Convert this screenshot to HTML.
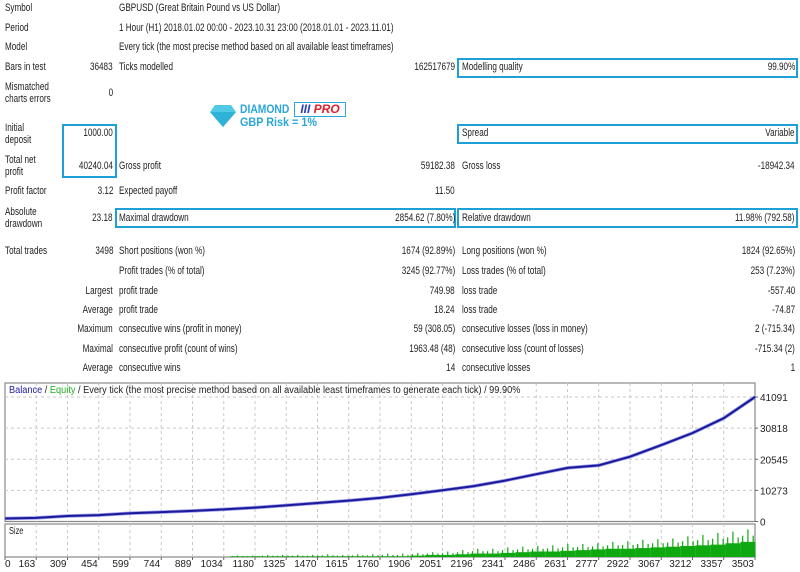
<!DOCTYPE html>
<html><head><meta charset="utf-8"><style>
body{margin:0;width:800px;height:572px;background:#fff;position:relative;overflow:hidden;font-family:"Liberation Sans",sans-serif;font-size:11px;color:#222}
.t{position:absolute;line-height:12px;white-space:nowrap;transform:scaleX(0.74);transform-origin:left center}
.r{text-align:right;transform-origin:right center}
.box{position:absolute;border:2px solid #1e9fd6;box-sizing:border-box}
</style></head><body>
<div class="box" style="left:457px;top:58px;width:341px;height:20px"></div>
<div class="box" style="left:62px;top:124px;width:55px;height:54px"></div>
<div class="box" style="left:457px;top:124px;width:341px;height:20px"></div>
<div class="box" style="left:115px;top:208px;width:341px;height:20px"></div>
<div class="box" style="left:457px;top:208px;width:341px;height:20px"></div>

<div>
<span class="t" style="left:5px;top:2px">Symbol</span>
<span class="t" style="left:119px;top:2px">GBPUSD (Great Britain Pound vs US Dollar)</span>
<span class="t" style="left:5px;top:22px">Period</span>
<span class="t" style="left:119px;top:22px">1 Hour (H1) 2018.01.02 00:00 - 2023.10.31 23:00 (2018.01.01 - 2023.11.01)</span>
<span class="t" style="left:5px;top:41px">Model</span>
<span class="t" style="left:119px;top:41px">Every tick (the most precise method based on all available least timeframes)</span>
<span class="t" style="left:5px;top:61px">Bars in test</span>
<span class="t r" style="right:687px;top:61px">36483</span>
<span class="t" style="left:119px;top:61px">Ticks modelled</span>
<span class="t r" style="right:345px;top:61px">162517679</span>
<span class="t" style="left:462px;top:61px">Modelling quality</span>
<span class="t r" style="right:5px;top:61px">99.90%</span>
<span class="t" style="left:5px;top:81px">Mismatched<br>charts errors</span>
<span class="t r" style="right:687px;top:87px">0</span>
<span class="t" style="left:5px;top:122px">Initial<br>deposit</span>
<span class="t r" style="right:687px;top:127px">1000.00</span>
<span class="t" style="left:462px;top:127px">Spread</span>
<span class="t r" style="right:5px;top:127px">Variable</span>
<span class="t" style="left:5px;top:154px">Total net<br>profit</span>
<span class="t r" style="right:687px;top:160px">40240.04</span>
<span class="t" style="left:119px;top:160px">Gross profit</span>
<span class="t r" style="right:345px;top:160px">59182.38</span>
<span class="t" style="left:462px;top:160px">Gross loss</span>
<span class="t r" style="right:5px;top:160px">-18942.34</span>
<span class="t" style="left:5px;top:185px">Profit factor</span>
<span class="t r" style="right:687px;top:185px">3.12</span>
<span class="t" style="left:119px;top:185px">Expected payoff</span>
<span class="t r" style="right:345px;top:185px">11.50</span>
<span class="t" style="left:5px;top:206px">Absolute<br>drawdown</span>
<span class="t r" style="right:687px;top:212px">23.18</span>
<span class="t" style="left:119px;top:212px">Maximal drawdown</span>
<span class="t r" style="right:345px;top:212px">2854.62 (7.80%)</span>
<span class="t" style="left:462px;top:212px">Relative drawdown</span>
<span class="t r" style="right:5px;top:212px">11.98% (792.58)</span>
<span class="t" style="left:5px;top:245px">Total trades</span>
<span class="t r" style="right:687px;top:245px">3498</span>
<span class="t" style="left:119px;top:245px">Short positions (won %)</span>
<span class="t r" style="right:345px;top:245px">1674 (92.89%)</span>
<span class="t" style="left:462px;top:245px">Long positions (won %)</span>
<span class="t r" style="right:5px;top:245px">1824 (92.65%)</span>
<span class="t" style="left:119px;top:265px">Profit trades (% of total)</span>
<span class="t r" style="right:345px;top:265px">3245 (92.77%)</span>
<span class="t" style="left:462px;top:265px">Loss trades (% of total)</span>
<span class="t r" style="right:5px;top:265px">253 (7.23%)</span>
<span class="t r" style="right:687px;top:285px">Largest</span>
<span class="t" style="left:119px;top:285px">profit trade</span>
<span class="t r" style="right:345px;top:285px">749.98</span>
<span class="t" style="left:462px;top:285px">loss trade</span>
<span class="t r" style="right:5px;top:285px">-557.40</span>
<span class="t r" style="right:687px;top:304px">Average</span>
<span class="t" style="left:119px;top:304px">profit trade</span>
<span class="t r" style="right:345px;top:304px">18.24</span>
<span class="t" style="left:462px;top:304px">loss trade</span>
<span class="t r" style="right:5px;top:304px">-74.87</span>
<span class="t r" style="right:687px;top:323px">Maximum</span>
<span class="t" style="left:119px;top:323px">consecutive wins (profit in money)</span>
<span class="t r" style="right:345px;top:323px">59 (308.05)</span>
<span class="t" style="left:462px;top:323px">consecutive losses (loss in money)</span>
<span class="t r" style="right:5px;top:323px">2 (-715.34)</span>
<span class="t r" style="right:687px;top:343px">Maximal</span>
<span class="t" style="left:119px;top:343px">consecutive profit (count of wins)</span>
<span class="t r" style="right:345px;top:343px">1963.48 (48)</span>
<span class="t" style="left:462px;top:343px">consecutive loss (count of losses)</span>
<span class="t r" style="right:5px;top:343px">-715.34 (2)</span>
<span class="t r" style="right:687px;top:362px">Average</span>
<span class="t" style="left:119px;top:362px">consecutive wins</span>
<span class="t r" style="right:345px;top:362px">14</span>
<span class="t" style="left:462px;top:362px">consecutive losses</span>
<span class="t r" style="right:5px;top:362px">1</span>
</div>

<div style="position:absolute;left:209px;top:102px">
<svg width="28" height="24" style="position:absolute;left:0;top:2px"><polygon points="6,1 22,1 27,8 14,23 1,8" fill="#4fc9e4"/><polygon points="1,8 27,8 14,23" fill="#2eb2d6"/></svg>
<span class="t" style="left:31px;top:1px;font-weight:bold;font-size:12px;color:#2aa6d8;transform:scaleX(0.86)">DIAMOND</span>
<span style="position:absolute;left:85px;top:0;width:52px;height:15px;border:1.5px solid #2aa6d8;box-sizing:border-box;font-weight:bold;font-style:italic;font-size:12px;line-height:12px;text-align:center;background:#fff"><span style="color:#2b3fb8">III</span> <span style="color:#e0202a">PRO</span></span>
<span class="t" style="left:31px;top:14px;font-weight:bold;font-size:12px;color:#2aa6d8;transform:scaleX(0.9)">GBP Risk = 1%</span>
</div>

<svg id="chart" width="800" height="572" style="position:absolute;left:0;top:0"></svg>
<script>
const xTickLabels=[0,163,309,454,599,744,889,1034,1180,1325,1470,1615,1760,1906,2051,2196,2341,2486,2631,2777,2922,3067,3212,3357,3503];
const yTickLabels=[0,10273,20545,30818,41091];
const balanceTrades=[0,146,292,437,583,729,875,1020,1166,1312,1458,1603,1749,1895,2041,2186,2332,2478,2624,2769,2915,3061,3207,3352,3498];
const balanceValues=[1000,1200,1800,2100,2700,3100,3500,4000,4600,5300,6100,6900,7800,9000,10300,11700,13500,15600,17700,18500,21400,25200,29200,34100,41091];
const sizeTrades=[1050,1120,1190,1260,1330,1400,1470,1540,1610,1680,1750,1820,1890,1960,2030,2100,2170,2240,2310,2380,2450,2520,2590,2660,2730,2800,2870,2940,3010,3080,3150,3220,3290,3360,3430];
const sizeBase=[0.01,0.01,0.01,0.01,0.01,0.01,0.01,0.01,0.01,0.01,0.01,0.01,0.02,0.03,0.03,0.04,0.05,0.05,0.06,0.07,0.08,0.08,0.09,0.10,0.11,0.12,0.12,0.13,0.14,0.15,0.16,0.17,0.18,0.20,0.22];
const sizePeak=[0.02,0.02,0.03,0.03,0.03,0.03,0.04,0.03,0.04,0.04,0.05,0.05,0.06,0.07,0.08,0.10,0.12,0.12,0.14,0.15,0.16,0.17,0.19,0.19,0.20,0.22,0.23,0.25,0.26,0.27,0.30,0.32,0.35,0.37,0.40];
const NS='http://www.w3.org/2000/svg', svg=document.getElementById('chart');
const L=5,R=755,T=383,B=521.5,ST=524,SB=557,maxTrade=3498,maxBal=41091,maxSize=0.48;
const xs=t=>L+t/maxTrade*(R-L), ys=v=>B-v/maxBal*(B-397), ss=v=>SB-v/maxSize*(SB-ST);
function mk(tag,at){const e=document.createElementNS(NS,tag);for(const k in at)e.setAttribute(k,at[k]);svg.appendChild(e);return e;}
let f=mk('rect',{x:L,y:T,width:R-L,height:B-T,fill:'#fff',stroke:'#888','stroke-width':1.2});


let f2=mk('rect',{x:L,y:ST,width:R-L,height:SB-ST,fill:'#fff',stroke:'#888','stroke-width':1.2});


xTickLabels.forEach((lab,i)=>{
  const x=L+i*(R-L)/(xTickLabels.length-1);
  if(i>0&&i<xTickLabels.length-1){
    let g=mk('line',{x1:x,x2:x,y1:T,y2:B,stroke:'#c8c8c8','stroke-dasharray':'3,3'});
    
    
    let g2=mk('line',{x1:x,x2:x,y1:ST,y2:SB,stroke:'#c8c8c8','stroke-dasharray':'3,3'});
    
    
  }
  let tk=mk('line',{x1:x,x2:x,y1:SB,y2:SB+3,stroke:'#666'});
  
  
  let t=mk('text',{x:i==0?5:x-1,y:567,'font-size':10,'font-family':'Liberation Sans, sans-serif',fill:'#222','text-anchor':i==0?'start':'end'});
  t.textContent=lab;
  
  
});
yTickLabels.forEach(v=>{
  const y=ys(v);
  if(v>0){
    let g=mk('line',{x1:L,x2:R,y1:y,y2:y,stroke:'#c8c8c8','stroke-dasharray':'3,3'});
    
    
  }
  let tk=mk('line',{x1:R,x2:R+3,y1:y,y2:y,stroke:'#666'});
  
  
  let t=mk('text',{x:760,y:y+4,'font-size':10,'font-family':'Liberation Sans, sans-serif',fill:'#222'});
  t.textContent=v;
  
  
});
sizeTrades.forEach((tr,i)=>{
  const x0=xs(tr), w=xs(70)-xs(0);
  let b=mk('rect',{x:x0,y:ss(sizeBase[i]),width:w,height:SB-ss(sizeBase[i]),fill:'#10a810'});
  
  
  [0.15,0.5,0.85].forEach((o,j)=>{
    const v=j==1?sizePeak[i]:(sizeBase[i]+sizePeak[i])/2;
    let s=mk('line',{x1:x0+o*w,x2:x0+o*w,y1:ss(v),y2:SB,stroke:'#10a810','stroke-width':1.2});
    
    
  });
});
const pts=balanceTrades.map((t,i)=>xs(t).toFixed(1)+','+ys(balanceValues[i]).toFixed(1)).join(' ');
let eq=mk('polyline',{points:pts,fill:'none',stroke:'#9a9ae8','stroke-width':3.5});


let bl=mk('polyline',{points:pts,fill:'none',stroke:'#1a1a9a','stroke-width':2});


</script>
<div class="t" style="left:9px;top:385px;font-size:10px;transform:scaleX(0.92)"><span style="color:#2020a0">Balance</span> / <span style="color:#20b020">Equity</span> / Every tick (the most precise method based on all available least timeframes to generate each tick) / 99.90%</div>
<div class="t" style="left:9px;top:526px;font-size:10px">Size</div>
</body></html>
